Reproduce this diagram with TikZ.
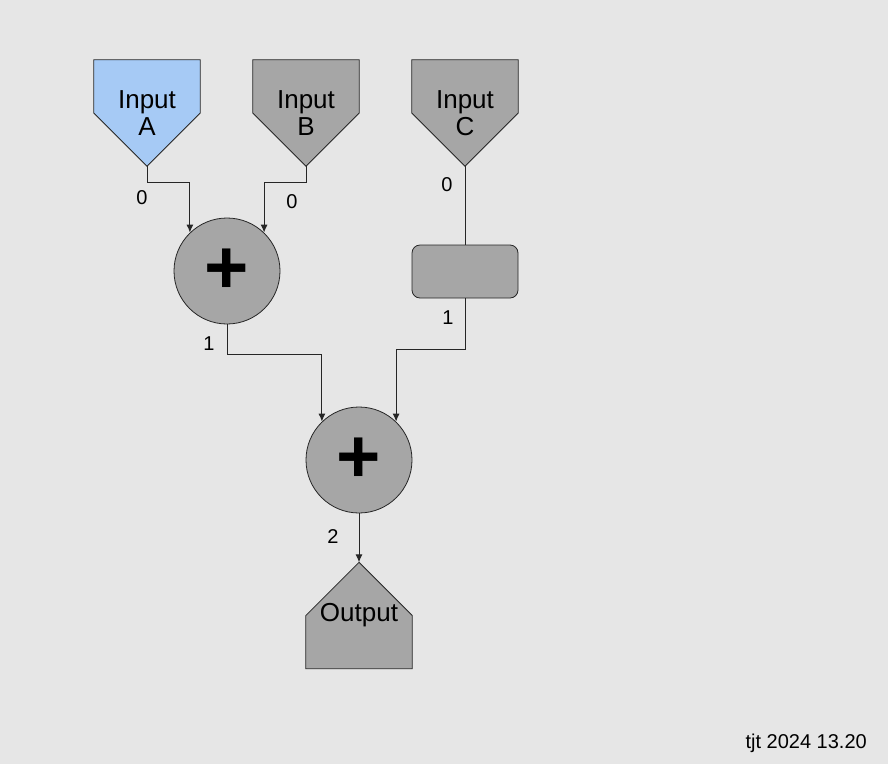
\documentclass[tikz,border=0pt]{standalone}
\usepackage{fontspec}
\setmainfont{Liberation Sans}
\usetikzlibrary{backgrounds,arrows.meta}
\definecolor{paper}{HTML}{E6E6E6}
\definecolor{boxgray}{HTML}{A6A6A6}
\definecolor{skyin}{HTML}{A6CAF5}

\tikzset{
  port/.style={rectangle, minimum width=106pt, minimum height=106pt, inner sep=0pt,
    align=center, font=\fontsize{26}{27}\selectfont},
  shell/.style={draw=black!85, line width=0.8pt, fill=boxgray},
  adder/.style={circle, shell, minimum size=106pt, inner sep=0pt,
    font=\fontsize{76}{76}\selectfont\bfseries},
  procbox/.style={rectangle, shell, rounded corners=8pt,
    minimum width=106pt, minimum height=53pt},
  wire/.style={draw=black!85, line width=1pt, -{Latex[length=8pt,width=7pt]}},
  num/.style={font=\fontsize{20}{20}\selectfont, inner sep=0pt}
}
% pentagon outline of a port node, point down or up
\newcommand{\inshape}[2][]{\path[shell,#1] (#2.north west) -- (#2.north east) -- (#2.east) -- (#2.south) -- (#2.west) -- cycle;}
\newcommand{\outshape}[2][]{\path[shell,#1] (#2.west) -- (#2.north) -- (#2.east) -- (#2.south east) -- (#2.south west) -- cycle;}

\begin{document}
\begin{tikzpicture}[x=1pt,y=-1pt]
	\useasboundingbox (0,0) rectangle (888,764);
	% inputs
	\node[port] (inA) at (147,113) {Input\\A};
	\node[port] (inB) at (306,113) {Input\\B};
	\node[port] (inC) at (465,113) {Input\\C};
	% operators
	\node[adder] (add1) at (227,271) {+};
	\node[procbox] (proc) at (465,271.5) {};
	\node[adder] (add2) at (359,460) {+};
	\node[port] (out) at (359,615.5) {Output};
	\begin{pgfonlayer}{background}
		\fill[paper] (0,0) rectangle (888,764);
		\inshape[fill=skyin]{inA}
		\inshape{inB}
		\inshape{inC}
		\outshape{out}
	\end{pgfonlayer}
	% connectors
	\draw[wire] (inA.south) -- ++(0,16) -| (add1.134);
	\draw[wire] (inB.south) -- ++(0,16) -| (add1.46);
	\draw[wire, -] (inC.south) -- (proc.north);
	\draw[wire] (add1.south) -- ++(0,30) -| (add2.134);
	\draw[wire] (proc.south) -- ++(0,51) -| (add2.46);
	\draw[wire] (add2.south) -- (out.north);
	% edge numbers
	\node[num] (nA) at (142,198) {0};
	\node[num] (nB) at (292,202) {0};
	\node[num] (nC) at (447,185) {0};
	\node[num] (nP) at (448,318) {1};
	\node[num] (n1) at (209,344) {1};
	\node[num] (n2) at (333,537) {2};
	\node[anchor=base east, font=\fontsize{20}{20}\selectfont, inner sep=0pt] (stamp) at (867,748) {tjt 2024 13.20};
\end{tikzpicture}
\end{document}
